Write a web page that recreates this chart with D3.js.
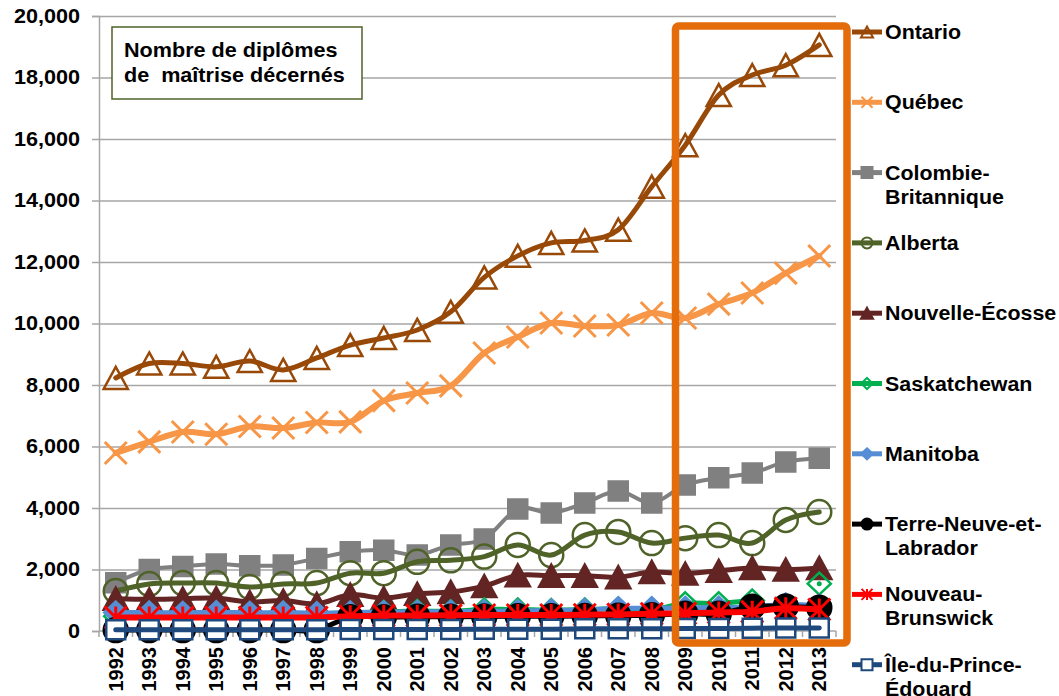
<!DOCTYPE html>
<html>
<head>
<meta charset="utf-8">
<script src="https://cdn.jsdelivr.net/npm/d3@7"></script>
<style>
	body { margin: 0; background: #fff; }
	text { font-family: "Liberation Sans", Arial, sans-serif; font-weight: bold; fill: #000; }
</style>
</head>
<body>
<svg id="chart" width="1059" height="696"></svg>
<script>
const years = ["1992", "1993", "1994", "1995", "1996", "1997", "1998", "1999", "2000", "2001", "2002",
	"2003", "2004", "2005", "2006", "2007", "2008", "2009", "2010", "2011", "2012", "2013"];
const yTicks = [0, 2000, 4000, 6000, 8000, 10000, 12000, 14000, 16000, 18000, 20000];

const ontario = [8230, 8700, 8700, 8590, 8780, 8490, 8880, 9300, 9530, 9790, 10380, 11500, 12200, 12620, 12700, 13050, 14450, 15800, 17430, 18080, 18400, 19060];
const quebec = [5790, 6150, 6470, 6400, 6650, 6600, 6780, 6800, 7490, 7740, 7970, 9040, 9560, 10015, 9920, 9950, 10340, 10180, 10630, 10990, 11640, 12195];
const colombieBritannique = [1570, 2000, 2100, 2180, 2120, 2150, 2360, 2580, 2630, 2470, 2800, 2990, 3970, 3840, 4160, 4550, 4160, 4750, 4980, 5140, 5500, 5620];
const alberta = [1300, 1530, 1560, 1560, 1430, 1530, 1560, 1880, 1880, 2250, 2300, 2420, 2800, 2470, 3120, 3220, 2860, 3020, 3120, 2860, 3610, 3870];
const nouvelleEcosse = [1050, 1030, 1050, 1070, 940, 990, 880, 1180, 1070, 1210, 1270, 1460, 1810, 1800, 1800, 1750, 1920, 1870, 1960, 2050, 2000, 2050];
const saskatchewan = [480, 500, 520, 520, 500, 520, 520, 580, 620, 650, 640, 700, 700, 680, 700, 720, 700, 900, 900, 990, null, 1540];
const manitoba = [600, 600, 590, 610, 590, 600, 580, 600, 610, 620, 630, 640, 650, 670, 680, 740, 740, 750, 760, 780, 860, 820];
const terreNeuve = [30, 30, 30, 30, 30, 30, 30, 450, 450, 460, 460, 470, 480, 480, 490, 500, 510, 560, 560, 790, 800, 760];
const nouveauBrunswick = [440, 440, 440, 440, 440, 440, 440, 480, 500, 500, 510, 520, 520, 520, 530, 540, 560, 575, 600, 630, 740, 700];
const ilePrinceEdouard = [40, 40, 40, 40, 40, 40, 40, 50, 50, 50, 50, 60, 60, 60, 70, 70, 70, 80, 80, 90, 100, 100];

const series = [
	{ name: ["Ontario"], values: ontario, color: "#984807", marker: "triangle", fill: "none", lw: 5 },
	{ name: ["Québec"], values: quebec, color: "#F79646", marker: "x", fill: "none", lw: 6 },
	{ name: ["Colombie-", "Britannique"], values: colombieBritannique, color: "#808080", marker: "square", fill: "#808080", lw: 4 },
	{ name: ["Alberta"], values: alberta, color: "#4F6228", marker: "circle", fill: "none", lw: 5 },
	{ name: ["Nouvelle-Écosse"], values: nouvelleEcosse, color: "#632523", marker: "triangle", fill: "#632523", lw: 5 },
	{ name: ["Saskatchewan"], values: saskatchewan, color: "#00B050", marker: "diamond", fill: "none", lw: 5 },
	{ name: ["Manitoba"], values: manitoba, color: "#558ED5", marker: "diamond", fill: "#558ED5", lw: 5 },
	{ name: ["Terre-Neuve-et-", "Labrador"], values: terreNeuve, color: "#000000", marker: "circle", fill: "#000000", lw: 5 },
	{ name: ["Nouveau-", "Brunswick"], values: nouveauBrunswick, color: "#FF0000", marker: "asterisk", fill: "none", lw: 6 },
	{ name: ["Île-du-Prince-", "Édouard"], values: ilePrinceEdouard, color: "#1F497D", marker: "square", fill: "#fff", lw: 5 },
];

function markerPath(type, s) {
	const h = s / 2;
	if (type === "triangle") return `M0,${-h}L${h * 1.1},${h}L${-h * 1.1},${h}Z`;
	if (type === "x") return `M${-h},${-h}L${h},${h}M${-h},${h}L${h},${-h}`;
	if (type === "square") return `M${-h},${-h}H${h}V${h}H${-h}Z`;
	if (type === "diamond") return `M0,${-h}L${h * 1.05},0L0,${h}L${-h * 1.05},0Z`;
	if (type === "asterisk") return `M${-h},${-h}L${h},${h}M${-h},${h}L${h},${-h}M0,${-h}V${h}`;
	return d3.symbol(d3.symbolCircle, Math.PI * h * h)();
}
const markerSize = { triangle: 22, x: 22, square: 19, diamond: 22, asterisk: 22, circle: 24 };

const svg = d3.select("#chart");
const plotL = 99, plotR = 836, plotT = 16, plotB = 631;

const x = d3.scaleBand().domain(years).range([plotL, plotR]);
const cx = (d) => x(d) + x.bandwidth() / 2;
const y = d3.scaleLinear().domain([0, 20000]).range([plotB, plotT]);

// grid
svg.append("g")
	.attr("transform", `translate(${plotL},0)`)
	.call(d3.axisLeft(y).tickValues(yTicks.slice(1)).tickSize(-(plotR - plotL)).tickFormat(""))
	.call((g) => g.select(".domain").remove())
	.selectAll("line").attr("stroke", "#a6a6a6").attr("stroke-width", 1.5);

// y axis
const yAxis = svg.append("g")
	.attr("transform", `translate(${plotL},0)`)
	.call(d3.axisLeft(y).tickValues(yTicks).tickSize(7).tickPadding(12).tickFormat(d3.format(",")));
yAxis.select(".domain").attr("stroke", "#a6a6a6").attr("stroke-width", 1.5);
yAxis.selectAll("line").attr("stroke", "#a6a6a6").attr("stroke-width", 1.5);
yAxis.selectAll("text").attr("font-size", 20).attr("font-family", null).attr("fill", "#000")
	.attr("x", -19 / 1.08)
	.attr("transform", "scale(1.08,1)");

// x axis
svg.append("line").attr("x1", plotL).attr("x2", plotR).attr("y1", plotB).attr("y2", plotB)
	.attr("stroke", "#a6a6a6").attr("stroke-width", 1.5);
svg.append("g").selectAll("line")
	.data(years.concat(["end"]))
	.join("line")
	.attr("x1", (d) => (d === "end" ? plotR : x(d)))
	.attr("x2", (d) => (d === "end" ? plotR : x(d)))
	.attr("y1", plotB).attr("y2", plotB + 6)
	.attr("stroke", "#a6a6a6").attr("stroke-width", 1.5);
svg.append("g").selectAll("text")
	.data(years)
	.join("text")
	.attr("transform", (d) => `translate(${cx(d) + 7},${plotB + 16}) rotate(-90)`)
	.attr("text-anchor", "end")
	.attr("font-size", 20)
	.text((d) => d);

// series
const line = d3.line()
	.defined((d) => d != null)
	.x((d, i) => cx(years[i]))
	.y((d) => y(d))
	.curve(d3.curveCatmullRom.alpha(0));

series.forEach((s) => {
	const g = svg.append("g");
	g.selectAll("path.m")
		.data(s.values.map((v, i) => [years[i], v]).filter((d) => d[1] != null))
		.join("path")
		.attr("class", "m")
		.attr("transform", (d) => `translate(${cx(d[0])},${y(d[1])})`)
		.attr("d", markerPath(s.marker, markerSize[s.marker]))
		.attr("fill", s.fill)
		.attr("stroke", s.color)
		.attr("stroke-width", s.marker === "x" || s.marker === "asterisk" ? 3 : 2.5);
	g.append("path")
		.datum(s.values)
		.attr("fill", "none")
		.attr("stroke", s.color)
		.attr("stroke-width", s.lw)
		.attr("stroke-linejoin", "round")
		.attr("stroke-linecap", "round")
		.attr("d", line);
});

// highlight box 2009-2013
svg.append("rect")
	.attr("x", x("2009") + 7).attr("y", 26)
	.attr("width", x("2013") + x.bandwidth() - x("2009") + 4).attr("height", 617)
	.attr("rx", 3)
	.attr("fill", "none").attr("stroke", "#E46C0A").attr("stroke-width", 7.5);

// title box
const tb = svg.append("g");
tb.append("rect").attr("x", 112).attr("y", 27).attr("width", 250).attr("height", 72)
	.attr("fill", "#fff").attr("stroke", "#4F6228").attr("stroke-width", 1.5);
tb.selectAll("text")
	.data(["Nombre de diplômes", "de  maîtrise décernés"])
	.join("text")
	.attr("transform", (d, i) => `translate(124,${57 + i * 24.5}) scale(1.08,1)`)
	.attr("font-size", 20)
	.style("white-space", "pre")
	.text((d) => d);

// legend
const legend = svg.append("g").selectAll("g")
	.data(series)
	.join("g")
	.attr("transform", (d, i) => `translate(867,${32 + i * 70.3})`);
legend.append("line").attr("x1", -15).attr("x2", 15)
	.attr("stroke", (d) => d.color).attr("stroke-width", 5);
legend.append("path")
	.attr("d", (d) => markerPath(d.marker, 11))
	.attr("fill", (d) => d.fill)
	.attr("stroke", (d) => d.color)
	.attr("stroke-width", 2);
legend.each(function (d) {
	d3.select(this).selectAll("text")
		.data(d.name)
		.join("text")
		.attr("transform", (t, i) => `translate(18,${7 + i * 24}) scale(1.07,1)`)
		.attr("font-size", 20)
		.text((t) => t);
});
</script>
</body>
</html>
